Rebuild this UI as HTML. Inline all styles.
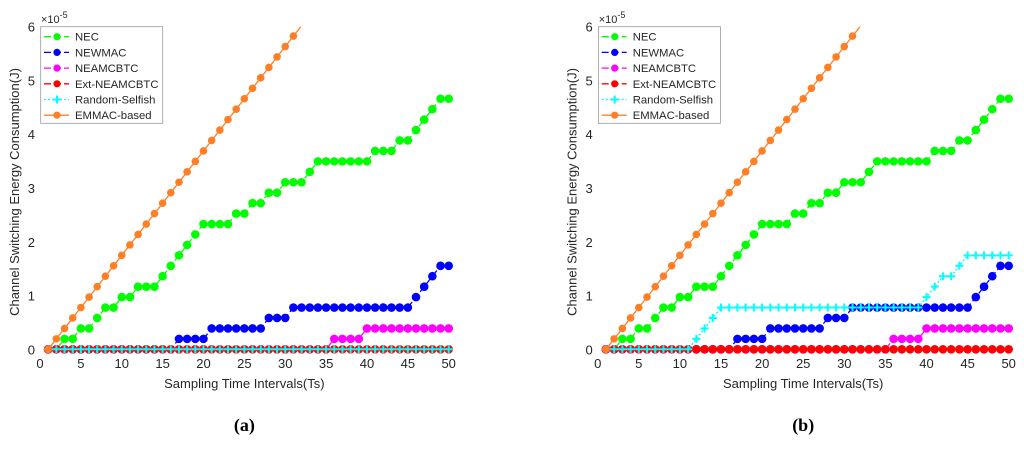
<!DOCTYPE html>
<html><head><meta charset="utf-8"><style>
body{margin:0;background:#fff;width:1024px;height:444px;overflow:hidden}
svg text{font-family:"Liberation Sans",sans-serif;fill:#262626}
</style></head><body>
<svg id="svg" width="1024" height="444" xmlns="http://www.w3.org/2000/svg"></svg>
<script>
const xs=[];for(let i=1;i<=50;i++)xs.push(i);
const necVals=[0,0,0.194,0.194,0.388,0.388,0.583,0.777,0.777,0.971,0.971,1.165,1.165,1.165,1.359,1.553,1.748,1.942,2.136,2.33,2.33,2.33,2.33,2.524,2.524,2.718,2.718,2.913,2.913,3.107,3.107,3.107,3.301,3.495,3.495,3.495,3.495,3.495,3.495,3.495,3.689,3.689,3.689,3.884,3.884,4.078,4.272,4.466,4.66,4.66];
const newmacVals=[0,0,0,0,0,0,0,0,0,0,0,0,0,0,0,0,0.194,0.194,0.194,0.194,0.388,0.388,0.388,0.388,0.388,0.388,0.388,0.583,0.583,0.583,0.777,0.777,0.777,0.777,0.777,0.777,0.777,0.777,0.777,0.777,0.777,0.777,0.777,0.777,0.777,0.971,1.165,1.359,1.553,1.553];
const neamVals=[0,0,0,0,0,0,0,0,0,0,0,0,0,0,0,0,0,0,0,0,0,0,0,0,0,0,0,0,0,0,0,0,0,0,0,0.194,0.194,0.194,0.194,0.388,0.388,0.388,0.388,0.388,0.388,0.388,0.388,0.388,0.388,0.388];
const extVals=xs.map(()=>0);
const randomA=xs.map(()=>0);
const randomB=[0,0,0,0,0,0,0,0,0,0,0,0.194,0.388,0.583,0.777,0.777,0.777,0.777,0.777,0.777,0.777,0.777,0.777,0.777,0.777,0.777,0.777,0.777,0.777,0.777,0.777,0.777,0.777,0.777,0.777,0.777,0.777,0.777,0.777,0.971,1.165,1.359,1.359,1.553,1.748,1.748,1.748,1.748,1.748,1.748];
const emmacX=[1,2,3,4,5,6,7,8,9,10,11,12,13,14,15,16,17,18,19,20,21,22,23,24,25,26,27,28,29,30,31];
const emmacVals=[0,0.194,0.388,0.583,0.777,0.971,1.165,1.359,1.553,1.748,1.942,2.136,2.33,2.524,2.718,2.913,3.107,3.301,3.495,3.689,3.884,4.078,4.272,4.466,4.66,4.854,5.049,5.243,5.437,5.631,5.825];
const xTicks=[0,5,10,15,20,25,30,35,40,45,50];
const yTicks=[0,1,2,3,4,5,6];
const legendNames=["NEC","NEWMAC","NEAMCBTC","Ext-NEAMCBTC","Random-Selfish","EMMAC-based"];
const NS="http://www.w3.org/2000/svg";
const svg=document.getElementById('svg');
function el(tag,attrs,parent){const e=document.createElementNS(NS,tag);for(const k in attrs)e.setAttribute(k,attrs[k]);(parent||svg).appendChild(e);return e;}
function panel(x0,x1,randomVals,label,key){
  const y0=349.3,y6=26.7;
  const sx=v=>x0+(x1-x0)*v/50, sy=v=>y0+(y6-y0)*v/6;
  const g=el('g',{});
  
  
  const cid='clip'+key;
  const cp=el('clipPath',{id:cid},g);el('rect',{x:x0-10,y:y6,width:x1-x0+20,height:y0-y6+10},cp);
  yTicks.forEach(t=>{const tx=el('text',{x:x0-5,y:sy(t)+5,'text-anchor':'end','font-size':13},g);tx.textContent=t;
    });
  xTicks.forEach(t=>{const tx=el('text',{x:sx(t),y:368,'text-anchor':'middle','font-size':13},g);tx.textContent=t;
    });
  const ex=el('text',{x:x0+1,y:23,'font-size':11},g);ex.innerHTML='×10<tspan dy="-5" font-size="9">-5</tspan>';
  
  const xl=el('text',{x:(x0+x1)/2,y:388,'text-anchor':'middle','font-size':13},g);xl.textContent='Sampling Time Intervals(Ts)';
  
  const yc=192,xc=x0-21;
  const yl=el('text',{x:xc,y:yc,'text-anchor':'middle','font-size':13,transform:`rotate(-90 ${xc} ${yc})`},g);yl.textContent='Channel Switching Energy Consumption(J)';
  
  const cap=el('text',{x:(x0+x1)/2,y:431,'text-anchor':'middle','font-size':18,'font-weight':'bold',style:'font-family:"Liberation Serif",serif;fill:#000'},g);cap.textContent=label;
  
  const series=[
    {x:xs,v:necVals,c:'#00ff00',dash:'7 3',m:'dot',r:4.3,n:'nec'},
    {x:xs,v:newmacVals,c:'#0000ff',dash:'7 3',m:'dot',r:4.3,n:'newmac'},
    {x:xs,v:neamVals,c:'#ff00ff',dash:'7 3',m:'dot',r:4.3,n:'neamcbtc'},
    {x:xs,v:extVals,c:'#ff0000',dash:'7 3',m:'dot',r:4.3,n:'ext-neamcbtc'},
    {x:xs,v:randomVals,c:'#00ffff',dash:'2 2',m:'plus',r:4.5,n:'random-selfish'},
    {x:emmacX,v:emmacVals,c:'#ff7f27',dash:'',m:'dot',r:3.8,n:'emmac-based'}];
  series.forEach((s,si)=>{
    const sg=el('g',{'clip-path':`url(#${cid})`},g);
    
    let pts=s.x.map((x,i)=>sx(x)+','+sy(s.v[i]));
    if(s.n==='emmac-based'){const n=s.x.length;const slope=(s.v[n-1]-s.v[0])/(s.x[n-1]-s.x[0]);pts.push(sx(s.x[n-1]+1)+','+sy(s.v[n-1]+slope));}
    const pl=el('polyline',{points:pts.join(' '),fill:'none',stroke:s.c,'stroke-width':1.3,'stroke-dasharray':s.dash},sg);
    
    s.x.forEach((x,i)=>{const cx=sx(x),cy=sy(s.v[i]);let m;
      if(s.m==='dot'){m=el('circle',{cx,cy,r:s.r,fill:s.c},sg);}
      else{m=el('path',{d:`M${cx-4} ${cy}H${cx+4}M${cx} ${cy-4}V${cy+4}`,stroke:s.c,'stroke-width':2},sg);}
      });
  });
  const lg=el('g',{},g);
  el('rect',{x:x0+0.7,y:26.7,width:122,height:96.6,fill:'#fff',stroke:'#999','stroke-width':0.8},lg);
  series.forEach((s,i)=>{const yy=36.7+i*15.7;
    const e=el('g',{},lg);
    el('line',{x1:x0+4,x2:x0+29,y1:yy,y2:yy,stroke:s.c,'stroke-width':1.3,'stroke-dasharray':s.dash},e);
    if(s.m==='dot')el('circle',{cx:x0+17,cy:yy,r:3.6,fill:s.c},e);
    else el('path',{d:`M${x0+13} ${yy}H${x0+21}M${x0+17} ${yy-4}V${yy+4}`,stroke:s.c,'stroke-width':2},e);
    const t=el('text',{x:x0+35,y:yy+4,'font-size':11.3},e);t.textContent=legendNames[i];});
}
panel(40,448.7,randomA,'(a)','a');
panel(597.7,1008.7,randomB,'(b)','b');
</script>
</body></html>
